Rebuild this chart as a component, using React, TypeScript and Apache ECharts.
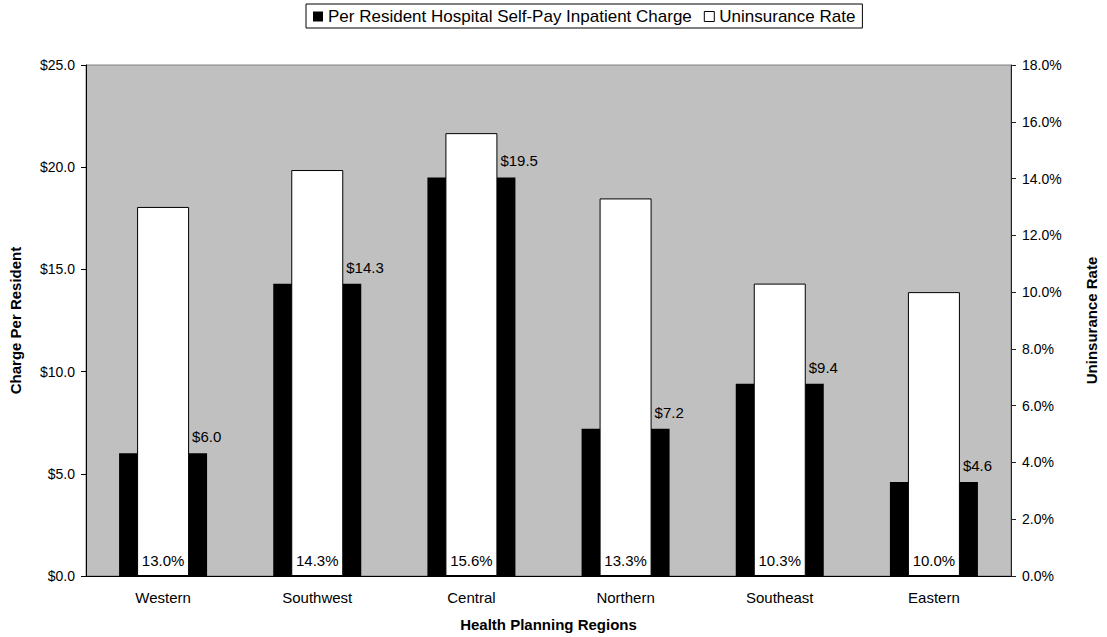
import React, { useEffect, useRef } from "react";
import * as echarts from "echarts";

// Health planning regions and their values
const regions = ["Western", "Southwest", "Central", "Northern", "Southeast", "Eastern"];
const chargePerResident = [6.0, 14.3, 19.5, 7.2, 9.4, 4.6];
const uninsuranceRate = [13.0, 14.3, 15.6, 13.3, 10.3, 10.0];

const chargeTicks = { min: 0, max: 25, interval: 5 };
const rateTicks = { min: 0, max: 18, interval: 2 };

const FONT = "'Liberation Sans', Arial, sans-serif";

export default function App() {
  const ref = useRef<HTMLDivElement>(null);

  useEffect(() => {
    if (!ref.current) return;
    const chart = echarts.init(ref.current, undefined, { renderer: "svg" });

    const tickText = { fontFamily: FONT, fontSize: 14, color: "#000" };
    const nameText = { fontFamily: FONT, fontSize: 15, fontWeight: "bold", color: "#000" };

    chart.setOption({
      animation: false,
      textStyle: { fontFamily: FONT },
      legend: {
        top: 4,
        left: 306,
        borderColor: "#000",
        borderWidth: 1,
        padding: [4, 7, 3, 7],
        itemWidth: 10,
        itemHeight: 10,
        itemGap: 12,
        icon: "rect",
        textStyle: { fontFamily: FONT, fontSize: 17, color: "#000" },
        data: [
          { name: "Per Resident Hospital Self-Pay Inpatient Charge", itemStyle: { color: "#000" } },
          { name: "Uninsurance Rate", itemStyle: { color: "#fff", borderColor: "#000", borderWidth: 1 } },
        ],
      },
      grid: {
        left: 85,
        top: 65,
        right: 81,
        bottom: 61,
        show: true,
        backgroundColor: "#c0c0c0",
        borderColor: "#808080",
        borderWidth: 1,
      },
      xAxis: [
        {
          type: "category",
          data: regions,
          name: "Health Planning Regions",
          nameLocation: "middle",
          nameGap: 41,
          nameTextStyle: nameText,
          axisLine: { lineStyle: { color: "#000", width: 1 } },
          axisTick: { show: false },
          axisLabel: { fontFamily: FONT, fontSize: 15, color: "#000", margin: 14 },
        },
        {
          type: "category",
          data: regions,
          show: false,
        },
      ],
      yAxis: [
        {
          type: "value",
          ...chargeTicks,
          name: "Charge Per Resident",
          nameLocation: "middle",
          nameGap: 63,
          nameRotate: 90,
          nameTextStyle: nameText,
          axisLine: { show: true, lineStyle: { color: "#000", width: 1 } },
          axisTick: { show: true, length: 5, lineStyle: { color: "#000" } },
          axisLabel: { ...tickText, margin: 11, formatter: (v: number) => "$" + v.toFixed(1) },
          splitLine: { show: false },
        },
        {
          type: "value",
          ...rateTicks,
          position: "right",
          name: "Uninsurance Rate",
          nameLocation: "middle",
          nameGap: 73,
          nameRotate: 90,
          nameTextStyle: nameText,
          axisLine: { show: true, lineStyle: { color: "#222", width: 1 } },
          axisTick: { show: true, length: 5, lineStyle: { color: "#222" } },
          axisLabel: { ...tickText, margin: 11, formatter: (v: number) => v.toFixed(1) + "%" },
          splitLine: { show: false },
        },
      ],
      series: [
        {
          name: "Per Resident Hospital Self-Pay Inpatient Charge",
          type: "bar",
          xAxisIndex: 0,
          yAxisIndex: 0,
          data: chargePerResident,
          barWidth: 88,
          itemStyle: { color: "#000" },
          label: {
            show: true,
            position: "top",
            align: "left",
            distance: 9,
            offset: [29, 0],
            fontFamily: FONT,
            fontSize: 15,
            color: "#000",
            formatter: (p: any) => "$" + Number(p.value).toFixed(1),
          },
        },
        {
          name: "Uninsurance Rate",
          type: "bar",
          xAxisIndex: 1,
          yAxisIndex: 1,
          data: uninsuranceRate,
          barWidth: 52,
          itemStyle: { color: "#fff", borderColor: "#000", borderWidth: 1 },
          label: {
            show: true,
            position: "insideBottom",
            distance: 8,
            fontFamily: FONT,
            fontSize: 15,
            color: "#000",
            formatter: (p: any) => Number(p.value).toFixed(1) + "%",
          },
        },
      ],
    });

    return () => chart.dispose();
  }, []);

  return (
    <div
      ref={ref}
      style={{ position: "fixed", left: 0, top: 0, width: 1107, height: 637, background: "#fff" }}
    />
  );
}
